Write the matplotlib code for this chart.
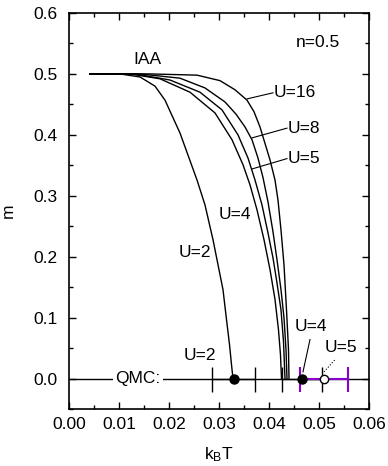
import matplotlib
matplotlib.use("Agg")
import matplotlib.pyplot as plt
from matplotlib.ticker import MultipleLocator

plt.rcParams['font.family'] = ['Liberation Sans', 'DejaVu Sans']
plt.rcParams['font.size'] = 12.5
plt.rcParams['mathtext.default'] = 'regular'

# IAA magnetization curves m(T) at half filling
t_u2 = [0.0042, 0.0102, 0.0142, 0.0172, 0.0192, 0.0222, 0.0256, 0.0272, 0.0288, 0.0298,
        0.0308, 0.0315, 0.0321, 0.0325, 0.0328]
m_u2 = [0.500, 0.500, 0.495, 0.480, 0.457, 0.403, 0.326, 0.285, 0.228, 0.187,
        0.146, 0.097, 0.056, 0.023, 0.0]

t_u4 = [0.0042, 0.0122, 0.0182, 0.0242, 0.0292, 0.0326, 0.0348, 0.0362, 0.0376, 0.0390,
        0.0402, 0.0412, 0.0419, 0.0423, 0.0425]
m_u4 = [0.500, 0.500, 0.492, 0.470, 0.436, 0.392, 0.351, 0.318, 0.277, 0.228,
        0.179, 0.130, 0.080, 0.039, 0.0]

t_u5 = [0.0042, 0.0132, 0.0202, 0.0262, 0.0306, 0.0338, 0.0358, 0.0372, 0.0386, 0.0398,
        0.0408, 0.0416, 0.0424, 0.0429, 0.0432]
m_u5 = [0.500, 0.500, 0.490, 0.470, 0.441, 0.400, 0.362, 0.326, 0.285, 0.239,
        0.198, 0.157, 0.113, 0.061, 0.0]

t_u8 = [0.0042, 0.0142, 0.0222, 0.0272, 0.0312, 0.0334, 0.0352, 0.0366, 0.0378, 0.0388,
        0.0398, 0.0408, 0.0416, 0.0424, 0.0430, 0.0434, 0.0436]
m_u8 = [0.500, 0.500, 0.493, 0.477, 0.454, 0.434, 0.413, 0.392, 0.362, 0.330,
        0.290, 0.241, 0.195, 0.146, 0.100, 0.048, 0.0]

t_u16 = [0.0042, 0.0162, 0.0256, 0.0302, 0.0332, 0.0356, 0.0370, 0.0382, 0.0402, 0.0412,
         0.0418, 0.0424, 0.0430, 0.0435, 0.0439, 0.0440]
m_u16 = [0.500, 0.500, 0.498, 0.489, 0.474, 0.457, 0.438, 0.413, 0.359, 0.326,
         0.293, 0.244, 0.187, 0.113, 0.048, 0.0]

# QMC critical temperatures with error bars
qmc_u2_t, qmc_u2_err = 0.0330, 0.0043
qmc_u4_t, qmc_u4_err = 0.0467, 0.0040
qmc_u5_t, qmc_u5_err = 0.0510, 0.0048

fig = plt.figure(figsize=(3.88, 4.66), dpi=100)
ax = fig.add_axes([0.1778, 0.1223, 0.7732, 0.8498])

for t, m in [(t_u2, m_u2), (t_u4, m_u4), (t_u5, m_u5), (t_u8, m_u8), (t_u16, m_u16)]:
    ax.plot(t, m, 'k-', linewidth=1.0)

# QMC row along m = 0
ax.axhline(0.0, color='k', linewidth=1.0, zorder=1)
ax.text(0.0138, 0.0, 'QMC:', ha='center', va='center',
        bbox=dict(facecolor='white', edgecolor='none', pad=1.5), zorder=2)

ax.errorbar([qmc_u2_t], [0.0], xerr=[qmc_u2_err], fmt='o', color='k', markersize=6.5,
            capsize=9, capthick=1.0, elinewidth=1.0, zorder=3)
ax.errorbar([qmc_u4_t], [0.0], xerr=[qmc_u4_err], fmt='none', ecolor='k',
            capsize=9, capthick=1.0, elinewidth=1.0, zorder=3)
ax.errorbar([qmc_u5_t], [0.0], xerr=[qmc_u5_err], fmt='none', ecolor='#8A00CC',
            capsize=9, capthick=1.5, elinewidth=1.5, zorder=4)
ax.plot([qmc_u4_t], [0.0], 'o', color='k', markersize=6.5, zorder=5)
ax.plot([qmc_u5_t], [0.0], 'o', markerfacecolor='white', markeredgecolor='k',
        markersize=6, markeredgewidth=1.0, zorder=5)

# curve labels
ax.text(0.0156, 0.523, 'IAA', ha='center', va='center')
ax.text(0.0498, 0.551, 'n=0.5', ha='center', va='center')
ax.text(0.0410, 0.469, 'U=16', ha='left', va='center')
ax.plot([0.0356, 0.0408], [0.459, 0.469], 'k-', linewidth=0.8)
ax.text(0.0438, 0.411, 'U=8', ha='left', va='center')
ax.plot([0.0366, 0.0436], [0.395, 0.411], 'k-', linewidth=0.8)
ax.text(0.0438, 0.361, 'U=5', ha='left', va='center')
ax.plot([0.0366, 0.0436], [0.344, 0.361], 'k-', linewidth=0.8)
ax.text(0.0332, 0.270, 'U=4', ha='center', va='center')
ax.text(0.0252, 0.207, 'U=2', ha='center', va='center')

ax.text(0.0262, 0.038, 'U=2', ha='center', va='center')
ax.text(0.0484, 0.085, 'U=4', ha='center', va='center')
ax.plot([0.0468, 0.0482], [0.011, 0.064], 'k-', linewidth=0.8)
ax.text(0.0512, 0.051, 'U=5', ha='left', va='center')
ax.plot([0.0510, 0.0532], [0.011, 0.031], 'k:', linewidth=0.8)

ax.set_xlim(0.0, 0.06)
ax.set_ylim(-0.05, 0.6)
ax.xaxis.set_major_locator(MultipleLocator(0.01))
ax.xaxis.set_minor_locator(MultipleLocator(0.005))
ax.yaxis.set_major_locator(MultipleLocator(0.1))
ax.yaxis.set_minor_locator(MultipleLocator(0.05))
ax.xaxis.set_major_formatter(plt.FormatStrFormatter('%.2f'))
ax.yaxis.set_major_formatter(plt.FormatStrFormatter('%.1f'))
ax.tick_params(which='both', direction='in', top=True, right=True, width=1.0)
ax.tick_params(which='major', length=5)
ax.tick_params(axis='x', which='major', pad=6)
ax.tick_params(axis='y', which='major', pad=8)
ax.tick_params(which='minor', length=3)
for s in ax.spines.values():
    s.set_linewidth(1.2)

ax.set_xlabel('k$_\\mathregular{B}$T', labelpad=9)
ax.set_ylabel('m', labelpad=13)

fig.savefig('out.png', dpi=100)
